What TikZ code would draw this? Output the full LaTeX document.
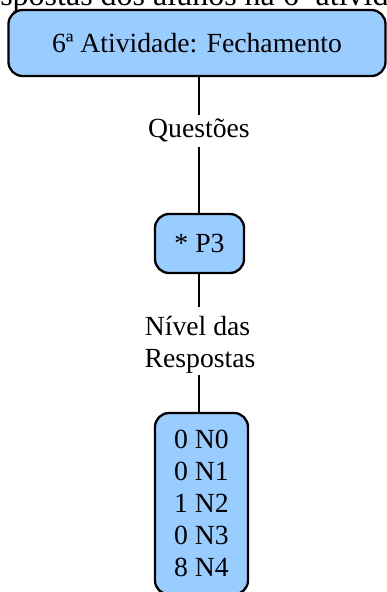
\documentclass[tikz,border=0pt]{standalone}
\usepackage{fontspec}
\setmainfont{Liberation Serif}
\definecolor{boxblue}{RGB}{153,204,255}
\tikzset{
  box/.style={draw=black, line width=2.3pt, fill=boxblue, rounded corners=14pt,
              inner sep=0pt, font=\fontsize{27.7}{32}\selectfont},
  lbl/.style={inner sep=0pt, font=\fontsize{27.7}{32}\selectfont},
  link/.style={line width=2.3pt, line cap=butt},
}
\begin{document}
\begin{tikzpicture}[x=1pt,y=-1pt]
  \useasboundingbox (0,0) rectangle (387,592);
  \clip (0,0) rectangle (387,592);

  % caption line running off the top edge
  \node[anchor=base west, inner sep=0pt, font=\fontsize{32}{38}\selectfont] (cap)
    at (-35.5,5) {Respostas dos alunos na 6ª atividade};

  % boxes
  \node[box, minimum width=377pt, minimum height=66pt] (act) at (197,43) {6ª Atividade: Fechamento};
  \node[box, minimum width=89pt, minimum height=59pt] (p3) at (199.5,243.5) {* P3};
  \node[box, minimum width=93pt, minimum height=181.4pt, align=center] (lv) at (201.5,503.7)
    {0 N0\\0 N1\\1 N2\\0 N3\\8 N4};

  % labels on the connectors
  \node[lbl, anchor=base] (q) at (199,137.5) {Questões};
  \node[lbl, anchor=base] (lvA) at (197.5,335) {Nível das};
  \node[lbl, anchor=base] (lvB) at (200,367) {Respostas};

  % connector end points around the labels
  \coordinate (qin) at (199,115);
  \coordinate (qout) at (199,147);
  \coordinate (lin) at (199,307);
  \coordinate (lout) at (199,375);

  \draw[link] (act.south -| qin) -- (qin);
  \draw[link] (qout) -- (p3.north -| qout);
  \draw[link] (p3.south -| lin) -- (lin);
  \draw[link] (lout) -- (lv.north -| lout);
\end{tikzpicture}
\end{document}
